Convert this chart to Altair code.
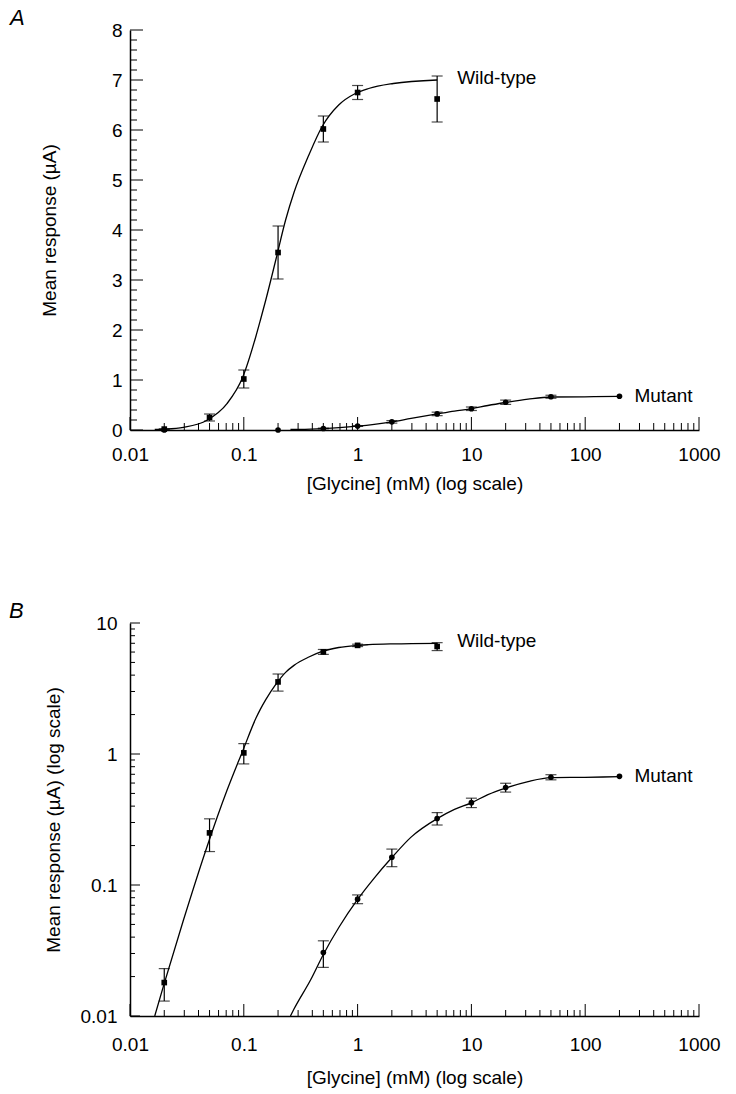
import altair as alt
import pandas as pd

# ---------------- data ----------------
# measured points (mean ± error)
wt_conc = [0.02, 0.05, 0.1, 0.2, 0.5, 1, 5]
wt_mean = [0.018, 0.25, 1.02, 3.55, 6.02, 6.75, 6.62]
wt_err = [0.005, 0.07, 0.18, 0.53, 0.26, 0.14, 0.46]

mut_conc = [0.02, 0.2, 0.5, 1, 2, 5, 10, 20, 50, 200]
mut_mean = [0.0, 0.0, 0.0305, 0.078, 0.163, 0.322, 0.425, 0.555, 0.665, 0.675]
mut_err = [0.0, 0.0, 0.007, 0.006, 0.025, 0.035, 0.035, 0.043, 0.03, 0.0]

# fitted curves
wt_fit_conc = [0.0165, 0.0197, 0.0295, 0.0475, 0.0712, 0.098, 0.128, 0.140, 0.156,
               0.191, 0.233, 0.276, 0.373, 0.488, 0.682, 0.955, 1.25, 2.06, 5.0]
wt_fit_val = [0.0100, 0.0170, 0.054, 0.196, 0.528, 1.06, 1.88, 2.2, 2.6,
              3.4, 4.2, 4.75, 5.5, 6.07, 6.5, 6.73, 6.83, 6.93, 7.0]

mut_fit_conc = [0.257, 0.276, 0.388, 0.5, 0.69, 1.0, 1.40, 2.0, 2.95, 5.0, 7.1,
                10, 13.96, 20, 31.5, 50, 99, 200]
mut_fit_val = [0.0100, 0.0113, 0.0190, 0.0295, 0.048, 0.0776, 0.113, 0.162, 0.232,
               0.321, 0.378, 0.424, 0.49, 0.55, 0.616, 0.66, 0.664, 0.671]

series_names = ["Wild-type", "Mutant"]

# axis tick values
x_major = [0.01, 0.1, 1, 10, 100, 1000]
x_decades = [0.01, 0.1, 1, 10, 100]
minor_mult = [2, 3, 4, 5, 6, 7, 8, 9]
ya_major = [0, 1, 2, 3, 4, 5, 6, 7, 8]
ya_minor_step = 0.2
yb_major = [0.01, 0.1, 1, 10]
yb_decades = [0.01, 0.1, 1]

# ---------------- tables ----------------
pts = pd.DataFrame({
    "series": [series_names[0]] * len(wt_conc) + [series_names[1]] * len(mut_conc),
    "conc": wt_conc + mut_conc,
    "mean": wt_mean + mut_mean,
    "err": wt_err + mut_err,
})
pts["lo"] = pts["mean"] - pts["err"]
pts["hi"] = pts["mean"] + pts["err"]

fit = pd.DataFrame({
    "series": [series_names[0]] * len(wt_fit_conc) + [series_names[1]] * len(mut_fit_conc),
    "conc": wt_fit_conc + mut_fit_conc,
    "val": wt_fit_val + mut_fit_val,
})

labels = pd.DataFrame({
    "series": series_names,
    "conc": [wt_fit_conc[-1], mut_conc[-1]],
    "val": [wt_fit_val[-1], mut_mean[-1]],
})

x_minor = [m * d for d in x_decades for m in minor_mult]
ya_minor = [round(i * ya_minor_step, 2) for i in range(0, 41) if i % 5 != 0]
yb_minor = [m * d for d in yb_decades for m in minor_mult]

FONT = "Liberation Sans"
FS = 19
W = 569

xscale = alt.Scale(type="log", domain=[0.01, 1000], nice=False)
shape_scale = alt.Scale(domain=series_names, range=["square", "circle"])


def panel(letter, letter_dx, H, yscale, ymajor, yminor, yfmt, ytitle,
          ylabpad, ytitlepad, xlabpad, xtitlepad, ymaj_len, ymin_len,
          xmaj_len, xmin_len, is_log):
    p = pts if not is_log else pts[pts["mean"] > 0]
    e = pts[pts["err"] > 0]

    xaxis = alt.Axis(values=x_major, format="~g", ticks=False, grid=False,
                     domainColor="black", domainWidth=1.5,
                     labelFont=FONT, labelFontSize=FS, labelColor="black",
                     labelPadding=xlabpad, labelFlush=False, labelOverlap=False,
                     title="[Glycine] (mM) (log scale)", titleFont=FONT,
                     titleFontSize=FS, titleFontWeight="normal", titleColor="black",
                     titlePadding=xtitlepad)
    yaxis = alt.Axis(values=ymajor, format=yfmt, ticks=False, grid=False,
                     domainColor="black", domainWidth=1.5,
                     labelFont=FONT, labelFontSize=FS, labelColor="black",
                     labelPadding=ylabpad, labelFlush=False, labelOverlap=False,
                     title=ytitle, titleFont=FONT, titleFontSize=FS,
                     titleFontWeight="normal", titleColor="black",
                     titlePadding=ytitlepad)

    def X(f):
        return alt.X(f, scale=xscale, axis=xaxis)

    def Y(f):
        return alt.Y(f, scale=yscale, axis=yaxis)

    lines = alt.Chart(fit).mark_line(color="black", strokeWidth=1.3,
                                      interpolate="monotone", clip=True).encode(
        x=X("conc:Q"), y=Y("val:Q"), detail="series:N",
    )
    bars = alt.Chart(e).mark_rule(color="black", strokeWidth=1.2).encode(
        x=X("conc:Q"), y=Y("lo:Q"), y2="hi:Q",
    )
    cap_hi = alt.Chart(e).mark_tick(color="black", orient="horizontal",
                                    size=11, thickness=1.2).encode(
        x=X("conc:Q"), y=Y("hi:Q"),
    )
    cap_lo = alt.Chart(e).mark_tick(color="black", orient="horizontal",
                                    size=11, thickness=1.2).encode(
        x=X("conc:Q"), y=Y("lo:Q"),
    )
    points = alt.Chart(p).mark_point(filled=True, color="black", opacity=1,
                                     size=32).encode(
        x=X("conc:Q"), y=Y("mean:Q"),
        shape=alt.Shape("series:N", scale=shape_scale, legend=None),
    )
    lab_wt = alt.Chart(labels[labels["series"] == series_names[0]]).mark_text(
        align="left", baseline="middle", dx=20, dy=-2, font=FONT, fontSize=FS,
        color="black").encode(
        x=X("conc:Q"), y=Y("val:Q"), text="series:N",
    )
    lab_mu = alt.Chart(labels[labels["series"] == series_names[1]]).mark_text(
        align="left", baseline="middle", dx=15, dy=0, font=FONT, fontSize=FS,
        color="black").encode(
        x=X("conc:Q"), y=Y("val:Q"), text="series:N",
    )

    def xt(vals, ln):
        return alt.Chart(pd.DataFrame({"conc": vals})).mark_rule(
            color="black", strokeWidth=1).encode(
            x=X("conc:Q"), y=alt.value(H), y2=alt.value(H - ln))

    def yt(vals, ln):
        return alt.Chart(pd.DataFrame({"val": vals})).mark_rule(
            color="black", strokeWidth=1).encode(
            y=Y("val:Q"), x=alt.value(0), x2=alt.value(ln))

    return alt.layer(
        lines, bars, cap_hi, cap_lo, points, lab_wt, lab_mu,
        xt(x_major, xmaj_len), xt(x_minor, xmin_len),
        yt(ymajor, ymaj_len), yt(yminor, ymin_len),
    ).properties(
        width=W, height=H,
        title=alt.TitleParams(letter, anchor="start", frame="group", dx=letter_dx,
                              offset=-9, font=FONT, fontSize=22, fontStyle="italic",
                              fontWeight="normal", color="black"),
    )


pa = panel("A", -120, 400, alt.Scale(domain=[0, 8], nice=False, zero=True),
           ya_major, ya_minor, "d", "Mean response (µA)",
           8, 52, 15, 10, 13, 7, 13, 7, False)
pb = panel("B", -121, 393, alt.Scale(type="log", domain=[0.01, 10], nice=False),
           yb_major, yb_minor, "~g", "Mean response (µA) (log scale)",
           13, 17, 19, 14, 10, 5, 12, 6, True)

chart = alt.concat(pa, pb, columns=1, spacing=107, align="none").properties(
    padding={"left": 9, "top": 7, "right": 5, "bottom": 5}
).configure(background="white").configure_view(stroke=None)

chart.save("out.html", embed_options={"renderer": "svg", "actions": False})
